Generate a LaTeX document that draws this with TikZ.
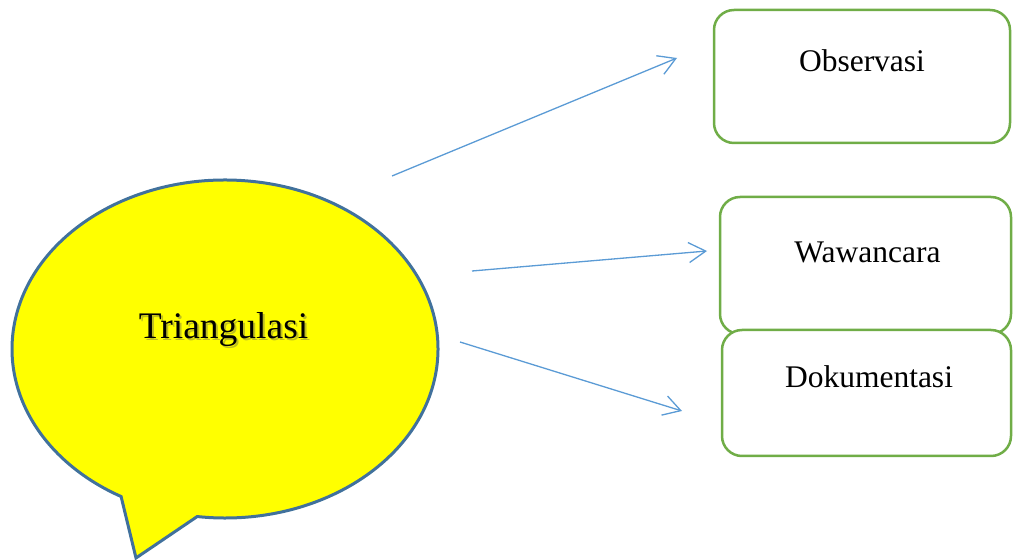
\documentclass[tikz,border=0pt]{standalone}
\usepackage{fontspec}
\setmainfont{Liberation Serif}
\usetikzlibrary{arrows.meta}
\definecolor{bubbleline}{RGB}{65,113,156}
\definecolor{bubblefill}{RGB}{255,255,0}
\definecolor{boxline}{RGB}{112,173,71}
\definecolor{arrowblue}{RGB}{91,155,213}
\definecolor{shadowc}{RGB}{140,140,60}
\tikzset{
  box/.style={draw=boxline, line width=2.5pt, rounded corners=20pt, fill=white, minimum width=#1, inner sep=0pt},
  boxtext/.style={anchor=base, font=\fontsize{31.5}{36}\selectfont, inner sep=0pt},
  arr/.style={draw=arrowblue, line width=1.3pt, -{Straight Barb[length=17pt,width=20pt,line width=1.3pt]}}
}
\begin{document}
\begin{tikzpicture}[x=1pt,y=1pt]
\useasboundingbox (0,0) rectangle (1013,560);
% speech bubble
\path[fill=bubblefill, draw=bubbleline, line width=3pt, line join=miter]
  (225,211) ++(262.5:213pt and 169pt)
  arc[start angle=262.5, end angle=600.8, x radius=213pt, y radius=169pt]
  -- (136,2) -- cycle;
\node[anchor=base, inner sep=0pt, font=\fontsize{37.5}{42}\selectfont, text=shadowc, opacity=0.55] at (225.5,219) {Triangulasi};
\node[anchor=base, inner sep=0pt, font=\fontsize{37.5}{42}\selectfont] (tri) at (223.5,221) {Triangulasi};
% boxes
\node[box=296pt, minimum height=133pt] (obs) at (862,483.5) {};
\node[box=291pt, minimum height=137pt] (waw) at (865.5,294.5) {};
\node[box=289pt, minimum height=126pt] (dok) at (866.5,167) {};
\node[boxtext] (obst) at (862,488) {Observasi};
\node[boxtext] (wawt) at (867.5,297) {Wawancara};
\node[boxtext] (dokt) at (869,172) {Dokumentasi};
% arrows
\coordinate (s1) at (392,384);
\coordinate (e1) at (677,502);
\coordinate (s2) at (472,289);
\coordinate (e2) at (707,309);
\coordinate (s3) at (460,218);
\coordinate (e3) at (682,149);
\draw[arr] (s1) -- (e1);
\draw[arr] (s2) -- (e2);
\draw[arr] (s3) -- (e3);
\end{tikzpicture}
\end{document}
